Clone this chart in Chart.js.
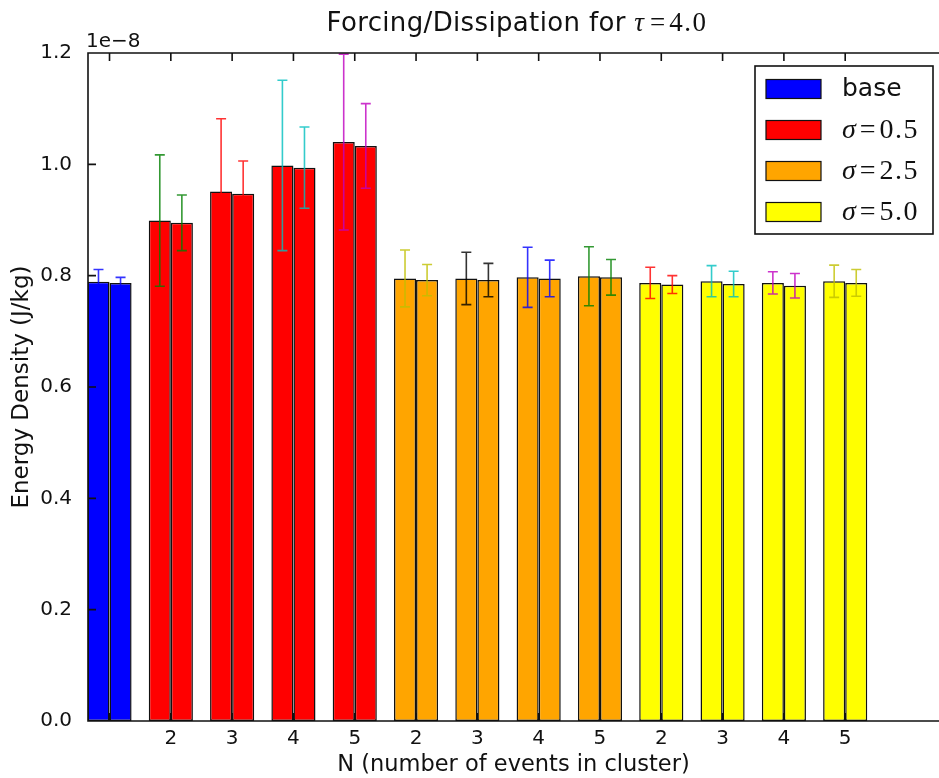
<!DOCTYPE html>
<html>
<head>
<meta charset="utf-8">
<script src="https://cdn.jsdelivr.net/npm/chart.js@4"></script>
<style>
  html, body { margin: 0; padding: 0; background: #fff; }
  #energy { display: block; }
</style>
</head>
<body>
<canvas id="energy" width="939" height="778"></canvas>
<script>
// energy density per group, in units of 1e-8 J/kg
const groupLabels = ['', '2', '3', '4', '5', '2', '3', '4', '5', '2', '3', '4', '5'];
const forcing = [0.789, 0.899, 0.951, 0.998, 1.040, 0.795, 0.795, 0.797, 0.799, 0.787, 0.790, 0.787, 0.790];
const forcingErr = [0.022, 0.118, 0.131, 0.153, 0.158, 0.051, 0.047, 0.054, 0.053, 0.028, 0.028, 0.020, 0.029];
const dissipation = [0.787, 0.895, 0.947, 0.994, 1.033, 0.792, 0.792, 0.795, 0.797, 0.784, 0.785, 0.782, 0.787];
const dissipationErr = [0.010, 0.050, 0.059, 0.073, 0.076, 0.028, 0.030, 0.033, 0.032, 0.016, 0.023, 0.022, 0.024];
const yTicks = [0.0, 0.2, 0.4, 0.6, 0.8, 1.0, 1.2];

const legendLabels = ['base', '0.5', '2.5', '5.0'];
const legendColors = ['#0000ff', '#ff0000', '#ffa500', '#ffff00'];
// which legend entry each group belongs to
const groupSet = [0, 1, 1, 1, 1, 2, 2, 2, 2, 3, 3, 3, 3];
const groupColors = groupSet.map(s => legendColors[s]);
// errorbar colours cycle through b g r c m y k
const errColors = ['#0000ff', '#008000', '#ff0000', '#00bfbf', '#bf00bf', '#bfbf00', '#000000',
                   '#0000ff', '#008000', '#ff0000', '#00bfbf', '#bf00bf', '#bfbf00'];

const SANS = '"DejaVu Sans"';
const SERIF = '"Liberation Serif"';

function points(vals) {
    return vals.map((v, i) => ({x: i, y: v}));
}

// draws a run of [text, font, gapAfter, letterSpacing] pieces starting at x
function drawPieces(ctx, pieces, x, y, measureOnly) {
    const x0 = x;
    pieces.forEach((p, i) => {
        ctx.font = p[1];
        ctx.letterSpacing = (p[3] || 0) + 'px';
        if (!measureOnly) ctx.fillText(p[0], x, y);
        x += ctx.measureText(p[0]).width;
        if (i < pieces.length - 1) x += p[2] || 0;
    });
    ctx.letterSpacing = '0px';
    return x - x0;
}

const decorations = {
    id: 'decorations',
    afterDatasetsDraw(chart) {
        const {ctx, chartArea: a, scales: {x, y}} = chart;

        // error bars
        ctx.save();
        ctx.lineWidth = 1.6;
        ctx.globalAlpha = 0.8;
        chart.data.datasets.forEach((ds, di) => {
            chart.getDatasetMeta(di).data.forEach((bar, i) => {
                const v = ds.data[i].y, e = ds.errors[i];
                const top = y.getPixelForValue(v + e);
                const bot = y.getPixelForValue(v - e);
                ctx.strokeStyle = errColors[i];
                ctx.beginPath();
                ctx.moveTo(bar.x, top); ctx.lineTo(bar.x, bot);
                ctx.moveTo(bar.x - 5, top); ctx.lineTo(bar.x + 5, top);
                ctx.moveTo(bar.x - 5, bot); ctx.lineTo(bar.x + 5, bot);
                ctx.stroke();
            });
        });
        ctx.restore();

        // spines and inward ticks
        ctx.save();
        ctx.strokeStyle = '#111';
        ctx.lineWidth = 1.6;
        ctx.beginPath();
        ctx.moveTo(a.right + 2, a.top); ctx.lineTo(a.left, a.top);
        ctx.lineTo(a.left, a.bottom); ctx.lineTo(a.right + 2, a.bottom);
        groupLabels.forEach((_, i) => {
            const px = x.getPixelForValue(i);
            ctx.moveTo(px, a.top); ctx.lineTo(px, a.top + 8);
            ctx.moveTo(px, a.bottom); ctx.lineTo(px, a.bottom - 8);
        });
        yTicks.forEach(t => {
            const py = y.getPixelForValue(t);
            ctx.moveTo(a.left, py); ctx.lineTo(a.left + 8, py);
        });
        ctx.stroke();

        // offset text above the y axis
        ctx.fillStyle = '#111';
        ctx.textBaseline = 'alphabetic';
        ctx.font = '20px ' + SANS;
        ctx.fillText('1e\u22128', a.left - 2, a.top - 6);

        // title
        const title = [
            ['Forcing/Dissipation for ', '26px ' + SANS, 0, 0.35],
            ['\u03c4', 'italic 27px ' + SERIF, 6],
            ['=', '27px ' + SERIF, 4],
            ['4.0', '27px ' + SERIF, 0, 1.5]
        ];
        const tw = drawPieces(ctx, title, 0, 0, true);
        drawPieces(ctx, title, 517 - tw / 2, 31);

        // legend inside the axes, upper right
        const lx = 755, ly = 66, lw = 178, lh = 168;
        ctx.fillStyle = '#fff';
        ctx.fillRect(lx, ly, lw, lh);
        ctx.strokeRect(lx, ly, lw, lh);
        legendLabels.forEach((lab, i) => {
            const cy = ly + 23 + i * 41;
            ctx.fillStyle = legendColors[i];
            ctx.fillRect(lx + 11, cy - 9.5, 55, 19);
            ctx.lineWidth = 1.2;
            ctx.strokeRect(lx + 11, cy - 9.5, 55, 19);
            ctx.fillStyle = '#111';
            ctx.textBaseline = 'middle';
            if (i === 0) {
                ctx.font = '25px ' + SANS;
                ctx.fillText(lab, lx + 87, cy);
            } else {
                drawPieces(ctx, [
                    ['\u03c3', 'italic 28px ' + SERIF, 4],
                    ['=', '28px ' + SERIF, 4],
                    [lab, '28px ' + SERIF, 0, 1.5]
                ], lx + 87, cy + 1);
            }
        });
        ctx.restore();
    }
};

new Chart(document.getElementById('energy'), {
    type: 'bar',
    data: {
        datasets: [
            {
                label: 'Forcing',
                data: points(forcing),
                errors: forcingErr,
                backgroundColor: groupColors,
                borderColor: '#111',
                borderWidth: 1.5,
                borderSkipped: false
            },
            {
                label: 'Dissipation',
                data: points(dissipation),
                errors: dissipationErr,
                backgroundColor: groupColors,
                borderColor: '#111',
                borderWidth: 1.5,
                borderSkipped: false
            }
        ]
    },
    options: {
        responsive: false,
        animation: false,
        categoryPercentage: 0.72,
        barPercentage: 1.0,
        layout: { padding: { top: 53, right: 0, left: 0, bottom: 0 } },
        plugins: {
            legend: { display: false },
            tooltip: { enabled: false },
            title: { display: false }
        },
        scales: {
            x: {
                type: 'linear',
                min: -0.351,
                max: 13.53,
                offset: false,
                grid: { display: false },
                border: { display: false },
                afterBuildTicks: function(scale) {
                    scale.ticks = groupLabels.map((_, i) => ({ value: i }));
                },
                afterFit: function(scale) { scale.height = 57; },
                ticks: {
                    autoSkip: false,
                    maxRotation: 0,
                    padding: -2,
                    color: '#111',
                    font: { family: SANS, size: 20 },
                    callback: function(value) { return groupLabels[value]; }
                },
                title: {
                    display: true,
                    text: 'N (number of events in cluster)',
                    color: '#111',
                    font: { family: SANS, size: 22.5 },
                    padding: { top: 0, bottom: -1 }
                }
            },
            y: {
                min: 0,
                max: 1.2,
                grid: { display: false },
                border: { display: false },
                afterBuildTicks: function(scale) {
                    scale.ticks = yTicks.map(v => ({ value: v }));
                },
                afterFit: function(scale) { scale.width = 88; },
                ticks: {
                    padding: 8,
                    color: '#111',
                    font: { family: SANS, size: 20 },
                    callback: function(value) { return value.toFixed(1); }
                },
                title: {
                    display: true,
                    text: 'Energy Density (J/kg)',
                    color: '#111',
                    font: { family: SANS, size: 23 },
                    padding: { top: 8, bottom: 0 }
                }
            }
        }
    },
    plugins: [decorations]
});
</script>
</body>
</html>
